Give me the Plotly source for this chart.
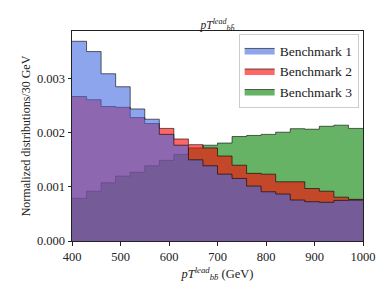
import plotly.graph_objects as go

bin_edges = [400 + 30 * i for i in range(21)]

benchmark1 = [3.69, 3.50, 3.09, 2.85, 2.44, 2.25, 1.97, 1.77, 1.50, 1.39,
              1.235, 1.156, 1.015, 0.91, 0.868, 0.757, 0.726, 0.715, 0.75, 0.755]
benchmark2 = [2.67, 2.61, 2.485, 2.47, 2.28, 2.17, 2.08, 1.885, 1.78, 1.72,
              1.57, 1.40, 1.25, 1.235, 1.094, 1.094, 0.97, 0.92, 0.81, 0.77]
benchmark3 = [0.79, 0.92, 1.075, 1.20, 1.27, 1.39, 1.49, 1.60, 1.72, 1.77,
              1.81, 1.93, 1.95, 1.97, 2.01, 2.075, 2.065, 2.12, 2.14, 2.08]

names = ["Benchmark 1", "Benchmark 2", "Benchmark 3"]
fills = ["rgba(65,105,225,0.6)", "rgba(255,0,0,0.6)", "rgba(0,128,0,0.6)"]

FONT = "Liberation Serif"

fig = go.Figure()
series = [benchmark1, benchmark2, benchmark3]
# draw order: green, red, blue (blue on top)
for idx in [2, 1, 0]:
    vals = [v * 1e-3 for v in series[idx]]
    fig.add_trace(go.Scatter(
        x=bin_edges, y=vals + [vals[-1]],
        mode="lines", line_shape="hv",
        line=dict(color="rgba(0,0,0,0.6)", width=1),
        fill="tozeroy", fillcolor=fills[idx],
        name=names[idx], legendrank=idx + 1,
    ))

lab = "<i>pT</i><sup><i>lead</i></sup><sub><i>bb̄</i></sub>"

# page body has an 8px margin, so offsets are compensated here
fig.update_layout(
    width=390, height=293,
    margin=dict(l=64, r=35, t=23, b=60, autoexpand=False),
    paper_bgcolor="white", plot_bgcolor="white",
    font=dict(family=FONT, size=12.5, color="#222"),
    title=dict(text=lab, x=0.5, xanchor="center", xref="paper", y=0.93, yanchor="bottom",
               font=dict(size=11.5)),
    showlegend=True,
    legend=dict(x=0.985, y=0.985, xanchor="right", yanchor="top",
                bgcolor="rgba(255,255,255,0.8)", bordercolor="#cccccc", borderwidth=1,
                font=dict(size=13.5), itemwidth=30, tracegroupgap=0),
    xaxis=dict(range=[400, 1000], tickvals=[400, 500, 600, 700, 800, 900, 1000],
               ticks="outside", ticklen=3.5, tickcolor="#222", showgrid=False, automargin=False,
               zeroline=False, showline=True, linecolor="#222", linewidth=1, mirror=True,
               title=dict(text=lab + " (GeV)", standoff=6, font=dict(size=12.5))),
    yaxis=dict(range=[0, 0.00388], tickvals=[0, 0.001, 0.002, 0.003], tickformat=".3f",
               ticks="outside", ticklen=3.5, tickcolor="#222", showgrid=False, automargin=False,
               zeroline=False, showline=True, linecolor="#222", linewidth=1, mirror=True,
               title=dict(text="Normalized distributions/30 GeV", standoff=3, font=dict(size=12))),
)

fig.write_html("out.html")
